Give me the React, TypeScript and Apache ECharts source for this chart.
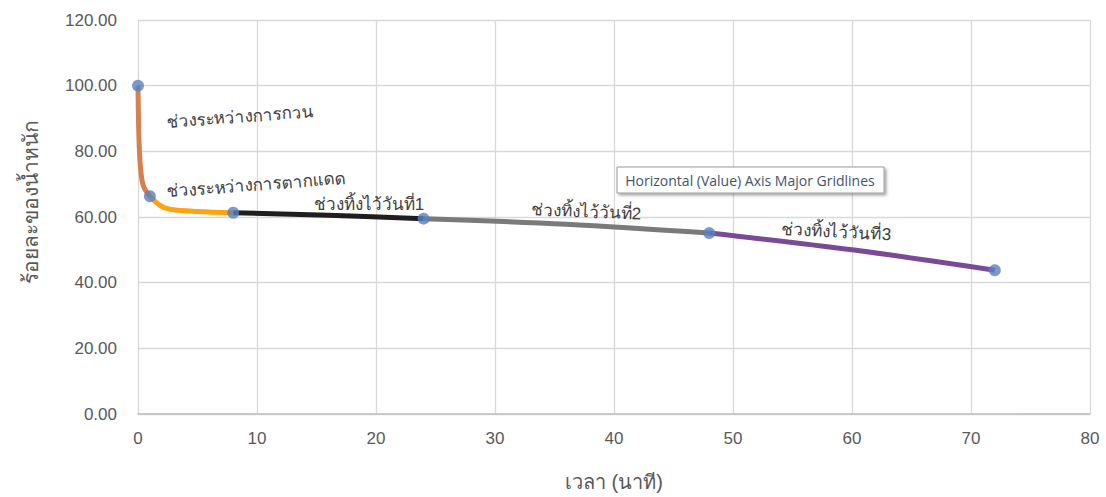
import React, { useEffect, useRef } from "react";
import * as echarts from "echarts";

// Segment data (time on x, percent weight on y)
const stirring: [number, number][] = [[0, 100], [0.08, 84], [0.2, 75.5], [0.45, 69.5], [1, 66.3]];
const sunDrying: [number, number][] = [[1, 66.3], [2, 63.2], [3, 62.2], [5, 61.7], [8, 61.3]];
const day1: [number, number][] = [[8, 61.3], [16, 60.5], [24, 59.5]];
const day2: [number, number][] = [[24, 59.5], [36, 57.8], [48, 55.1]];
const day3: [number, number][] = [[48, 55.1], [60, 50.0], [72, 43.8]];
const markers: [number, number][] = [[0, 100], [1, 66.3], [8, 61.3], [24, 59.5], [48, 55.1], [72, 43.8]];

const segmentNames = ["ช่วงระหว่างการกวน", "ช่วงระหว่างการตากแดด", "ช่วงทิ้งไว้วันที่1", "ช่วงทิ้งไว้วันที่2", "ช่วงทิ้งไว้วันที่3"];
const segmentColors = ["#d6804f", "#ffa30f", "#1e1e1e", "#7a7a7a", "#7b4a97"];

const xTitle = "เวลา (นาที)";
const yTitle = "ร้อยละของน้ำหนัก";
const tipText = "Horizontal (Value) Axis Major Gridlines";

const FONT = "'Liberation Sans', 'Noto Sans', sans-serif";

export default function App() {
  const ref = useRef<HTMLDivElement>(null);
  useEffect(() => {
    document.body.style.margin = "0";
    const chart = echarts.init(ref.current!, null, { renderer: "svg" });
    const segs = [stirring, sunDrying, day1, day2, day3];
    const lineSeries = segs.map((d, i) => ({
      type: "line",
      name: segmentNames[i],
      data: d,
      smooth: 0.35,
      showSymbol: false,
      lineStyle: { color: segmentColors[i], width: 5 },
      z: 2,
    }));
    const annotations = [
      { x: 240, y: 117, r: 0.075, t: segmentNames[0] },
      { x: 256, y: 185, r: 0.075, t: segmentNames[1] },
      { x: 369, y: 204, r: 0.0, t: segmentNames[2] },
      { x: 586, y: 212, r: -0.04, t: segmentNames[3] },
      { x: 836, y: 232, r: -0.05, t: segmentNames[4] },
    ];
    chart.setOption({
      animation: false,
      backgroundColor: "#ffffff",
      grid: { left: 138, right: 16, top: 20, bottom: 74 },
      xAxis: {
        type: "value",
        min: 0,
        max: 80,
        interval: 10,
        name: xTitle,
        nameLocation: "middle",
        nameGap: 58,
        nameTextStyle: { color: "#595959", fontSize: 20, fontFamily: FONT },
        axisLine: { show: true, lineStyle: { color: "#bfbfbf", width: 1.5 } },
        axisTick: { show: false },
        splitLine: { show: true, lineStyle: { color: "#d9d9d9", width: 1.3 } },
        axisLabel: { color: "#595959", fontSize: 17, margin: 16, fontFamily: FONT },
      },
      yAxis: {
        type: "value",
        min: 0,
        max: 120,
        interval: 20,
        axisLine: { show: false },
        axisTick: { show: false },
        splitLine: { show: true, lineStyle: { color: "#d9d9d9", width: 1.3 } },
        axisLabel: {
          color: "#595959",
          fontSize: 17,
          margin: 21,
          fontFamily: FONT,
          formatter: (v: number) => v.toFixed(2),
        },
      },
      series: [
        ...lineSeries,
        {
          type: "scatter",
          data: markers,
          symbol: "circle",
          symbolSize: 12,
          itemStyle: { color: "#5a7fbf" },
          z: 5,
        },
      ],
      graphic: [
        {
          type: "text",
          x: 30,
          y: 202,
          rotation: Math.PI / 2,
          style: {
            text: yTitle,
            fill: "#595959",
            fontSize: 21,
            fontFamily: FONT,
            align: "center",
            verticalAlign: "middle",
          },
        },
        ...annotations.map((a) => ({
          type: "text",
          x: a.x,
          y: a.y,
          rotation: a.r,
          z: 10,
          style: {
            text: a.t,
            fill: "#404040",
            fontSize: 17,
            fontFamily: FONT,
            align: "center",
            verticalAlign: "middle",
          },
        })),
        {
          type: "rect",
          z: 20,
          shape: { x: 617, y: 167, width: 267, height: 26 },
          style: {
            fill: "#ffffff",
            stroke: "#9a9a9a",
            lineWidth: 1,
            shadowBlur: 3,
            shadowOffsetX: 2,
            shadowOffsetY: 2,
            shadowColor: "rgba(0,0,0,0.35)",
          },
        },
        {
          type: "text",
          z: 21,
          x: 750,
          y: 180,
          style: {
            text: tipText,
            fill: "#44546a",
            fontSize: 14,
            fontFamily: "'Open Sans', 'Noto Sans', sans-serif",
            align: "center",
            verticalAlign: "middle",
          },
        },
      ],
    });
    return () => chart.dispose();
  }, []);
  return <div ref={ref} style={{ width: 1106, height: 497 }} />;
}
